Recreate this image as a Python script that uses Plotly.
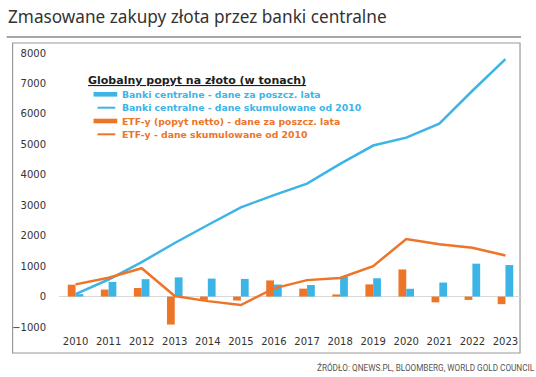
import plotly.graph_objects as go

years = [str(y) for y in range(2010, 2024)]
cb_annual = [80, 480, 570, 630, 590, 580, 395, 380, 650, 600, 255, 460, 1080, 1035]
cb_cumulative = [80, 560, 1130, 1760, 2350, 2930, 3330, 3710, 4360, 4960, 5220, 5680, 6760, 7800]
etf_annual = [390, 230, 280, -920, -110, -130, 530, 260, 70, 400, 890, -190, -110, -250]
etf_cumulative = [400, 620, 930, 20, -150, -280, 270, 540, 610, 1000, 1890, 1720, 1600, 1350]
y_ticks = [-1000, 0, 1000, 2000, 3000, 4000, 5000, 6000, 7000, 8000]

legend_title = "Globalny popyt na złoto (w tonach)"
names = {
    "cb_annual": "Banki centralne - dane za poszcz. lata",
    "cb_cum": "Banki centralne - dane skumulowane od 2010",
    "etf_annual": "ETF-y (popyt netto) - dane za poszcz. lata",
    "etf_cum": "ETF-y - dane skumulowane od 2010",
}

BLUE = "#3db4e6"
ORANGE = "#ee7427"
W, H = 536, 377
ML, MR, MT, MB = 53, 14, 53, 50
PW, PH = W - ML - MR, H - MT - MB


def px_x(p):
    return (p - ML) / PW


def px_y(p):
    return (H - MB - p) / PH


fig = go.Figure()
fig.add_trace(go.Bar(x=years, y=etf_annual, name=names["etf_annual"],
                     marker=dict(color=ORANGE, line=dict(width=0))))
fig.add_trace(go.Bar(x=years, y=cb_annual, name=names["cb_annual"],
                     marker=dict(color=BLUE, line=dict(width=0))))
fig.add_trace(go.Scatter(x=years, y=cb_cumulative, mode="lines", name=names["cb_cum"],
                         line=dict(color=BLUE, width=2.5)))
fig.add_trace(go.Scatter(x=years, y=etf_cumulative, mode="lines", name=names["etf_cum"],
                         line=dict(color=ORANGE, width=2.5)))

# custom legend (swatches + texts)
leg_shapes = []
leg_annos = [dict(text="<b><u>" + legend_title + "</u></b>", xref="paper", yref="paper",
                  x=px_x(80), y=px_y(80.5), xanchor="left", yanchor="middle", showarrow=False,
                  font=dict(family="DejaVu Sans, sans-serif", size=11, color="#1e1e1e"))]
items = [("cb_annual", "bar", BLUE, 94.3), ("cb_cum", "line", BLUE, 107.7),
         ("etf_annual", "bar", ORANGE, 121), ("etf_cum", "line", ORANGE, 134.3)]
for key, kind, col, yc in items:
    if kind == "bar":
        leg_shapes.append(dict(type="rect", xref="paper", yref="paper", x0=px_x(88), x1=px_x(112),
                               y0=px_y(yc + 2.3), y1=px_y(yc - 2.3), fillcolor=col, line=dict(width=0)))
    else:
        leg_shapes.append(dict(type="line", xref="paper", yref="paper", x0=px_x(92), x1=px_x(110),
                               y0=px_y(yc), y1=px_y(yc), line=dict(color=col, width=2)))
    leg_annos.append(dict(text="<b>" + names[key] + "</b>", xref="paper", yref="paper",
                          x=px_x(115), y=px_y(yc), xanchor="left", yanchor="middle", showarrow=False,
                          font=dict(family="DejaVu Sans, sans-serif", size=9.3, color=col)))

fig.update_layout(
    width=W, height=H,
    margin=dict(l=ML, r=MR, t=MT, b=MB),
    paper_bgcolor="white", plot_bgcolor="white",
    barmode="group", bargap=0.53, bargroupgap=0,
    showlegend=False,
    font=dict(family="DejaVu Sans, sans-serif", size=10, color="#404040"),
    title=dict(text="Zmasowane zakupy złota przez banki centralne", xref="container", yref="container",
               x=8 / W, y=1 - 17 / H, xanchor="left", yanchor="middle",
               font=dict(family="Noto Sans, sans-serif", size=17.2, color="#333333")),
    xaxis=dict(type="category", showgrid=False, showline=False, zeroline=False,
               ticks="outside", ticklen=5, tickcolor="rgba(0,0,0,0)",
               tickfont=dict(family="DejaVu Sans, sans-serif", size=10, color="#333333"),
               range=[-0.5, 13.5]),
    yaxis=dict(range=[-1000, 8000], tickvals=y_ticks, showgrid=False, showline=False,
               zeroline=True, zerolinecolor="#d9d9d9", zerolinewidth=1,
               ticks="outside", ticklen=10, tickcolor="rgba(0,0,0,0)",
               tickfont=dict(family="DejaVu Sans, sans-serif", size=10, color="#333333")),
    shapes=[
        dict(type="line", xref="paper", yref="paper", x0=px_x(0), x1=px_x(521), y0=px_y(37), y1=px_y(37),
             line=dict(color="#8a8a8a", width=1.5)),
        dict(type="rect", xref="paper", yref="paper", x0=px_x(6), x1=px_x(520), y0=px_y(353), y1=px_y(43),
             line=dict(color="#9a9a9a", width=1.2), layer="below"),
    ] + leg_shapes,
    annotations=[
        dict(text="ŹRÓDŁO: QNEWS.PL, BLOOMBERG, WORLD GOLD COUNCIL", xref="paper", yref="paper",
             x=px_x(537), y=px_y(367), xanchor="right", yanchor="middle", showarrow=False,
             font=dict(family="Roboto, sans-serif", size=8.2, color="#555555")),
    ] + leg_annos,
)

fig.write_html("out.html", config={"displayModeBar": False},
               post_script="document.body.style.margin='0';")
